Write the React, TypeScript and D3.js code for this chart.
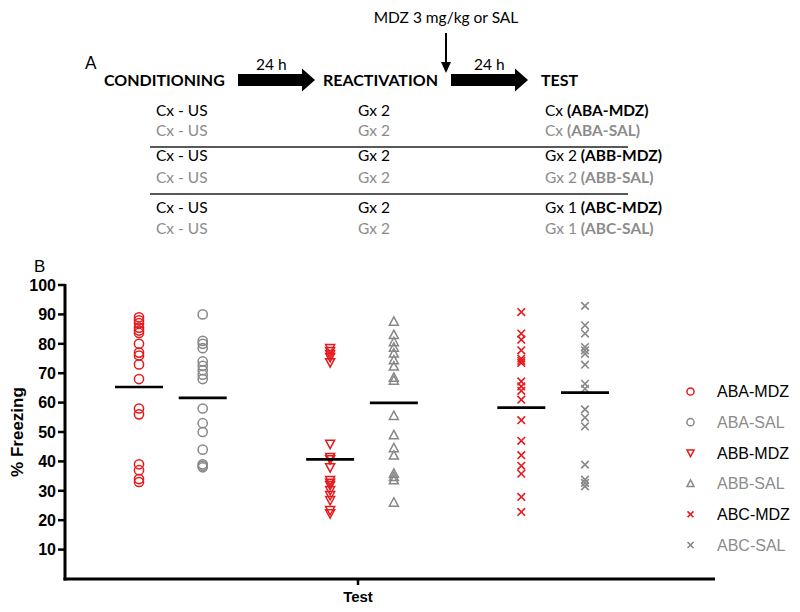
import React from "react";
import * as d3 from "d3";

// ---------- DATA ----------
const groups = ["ABA-MDZ", "ABA-SAL", "ABB-MDZ", "ABB-SAL", "ABC-MDZ", "ABC-SAL"];
const groupSlots = [0, 1, 3, 4, 6, 7];
const abaMdz = [89, 88, 87, 85.5, 84.5, 83.7, 80, 77, 76, 73, 68, 58, 56, 39, 37, 34, 33];
const abaSal = [90, 81, 80, 78.5, 74, 72.5, 71, 69.5, 68, 58, 53, 50, 44, 39, 38.5, 38];
const abbMdz = [78.5, 77.5, 76.5, 75.5, 73.7, 46, 41.5, 40.7, 38, 33.6, 32.7, 31.9, 30.2, 28.5, 26.8, 23.4, 22.3];
const abbSal = [87.5, 83, 80.6, 78.7, 76.7, 74.4, 72.3, 68.5, 67.5, 55.5, 48.9, 44.5, 42, 35.8, 34.7, 33.6, 26];
const abcMdz = [90.8, 83.5, 81.4, 77.8, 75, 74.2, 73.5, 67.2, 65.5, 64, 61, 54, 47, 42.1, 38.5, 35.8, 27.9, 22.8];
const abcSal = [92.9, 86.3, 83.5, 78.9, 77.8, 76.6, 72.9, 66.4, 64.7, 57.7, 54.9, 51.9, 38.9, 33.8, 32.7, 31.5];
const groupMeans = [65.3, 61.6, 40.7, 59.9, 58.3, 63.4];
const yTicks = [10, 20, 30, 40, 50, 60, 70, 80, 90, 100];
const xCategory = "Test";
const yTitle = "% Freezing";

const schemeLeft = ["Cx - US", "Cx - US", "Cx - US", "Cx - US", "Cx - US", "Cx - US"];
const schemeMid = ["Gx 2", "Gx 2", "Gx 2", "Gx 2", "Gx 2", "Gx 2"];
const schemeRightCtx = ["Cx", "Cx", "Gx 2", "Gx 2", "Gx 1", "Gx 1"];
const stages = ["CONDITIONING", "REACTIVATION", "TEST"];

const seriesValues = [abaMdz, abaSal, abbMdz, abbSal, abcMdz, abcSal];
const shapes = ["circle", "circle", "down", "up", "x", "x"];

const RED = "#e8191c";
const GRAY = "#888888";
const TXT_GRAY = "#8c8c8c";

function Marker({ shape, x, y, color, k = 1 }: { shape: string; x: number; y: number; color: string; k?: number }) {
  if (shape === "circle") {
    return <circle cx={x} cy={y} r={4.6 * k} fill="none" stroke={color} strokeWidth={1.5} />;
  }
  if (shape === "up") {
    return (
      <path
        d={`M${x},${y - 4.8 * k}L${x + 4.5 * k},${y + 3.6 * k}L${x - 4.5 * k},${y + 3.6 * k}Z`}
        fill="none"
        stroke={color}
        strokeWidth={1.5}
      />
    );
  }
  if (shape === "down") {
    return (
      <path
        d={`M${x},${y + 4.8 * k}L${x + 4.5 * k},${y - 3.6 * k}L${x - 4.5 * k},${y - 3.6 * k}Z`}
        fill="none"
        stroke={color}
        strokeWidth={1.5}
      />
    );
  }
  const s = 3.8 * k;
  return (
    <path
      d={`M${x - s},${y - s}L${x + s},${y + s}M${x - s},${y + s}L${x + s},${y - s}`}
      stroke={color}
      strokeWidth={1.6}
    />
  );
}

function ThickArrow({ x0, x1, y }: { x0: number; x1: number; y: number }) {
  const hx = x1 - 13;
  const d = `M${x0},${y - 6}L${hx},${y - 6}L${hx},${y - 11.5}L${x1},${y}L${hx},${y + 11.5}L${hx},${y + 6}L${x0},${y + 6}Z`;
  return <path d={d} fill="#000" />;
}

export default function App() {
  const y = d3.scaleLinear().domain([0, 100]).range([579, 285]);
  const x = d3.scaleLinear().domain([0, 7]).range([139, 585]);
  const axisLeft = 65;
  const axisRight = 715;
  const axisBottom = 579;

  const fA = "Lato, 'Open Sans', sans-serif";
  const fB = "'Liberation Sans', Arial, sans-serif";
  const rowY = [116, 136, 161, 183, 213, 234];
  const sepY = [147, 194];

  return (
    <svg width={800} height={612} style={{ position: "absolute", left: 0, top: 0, background: "#fff" }}>
      {/* Panel A */}
      <text x={446} y={23} textAnchor="middle" fontFamily={fA} fontSize={15.5}>
        MDZ 3 mg/kg or SAL
      </text>
      <line x1={446} y1={33} x2={446} y2={66} stroke="#000" strokeWidth={2} />
      <path d="M441,62L446,73L451,62Z" fill="#000" />
      <text x={85} y={69} fontFamily={fA} fontSize={17}>A</text>
      <text x={104} y={86} fontFamily={fA} fontSize={16} fontWeight="bold">{stages[0]}</text>
      <text x={256} y={70} fontFamily={fA} fontSize={15.5}>24 h</text>
      <ThickArrow x0={238} x1={315} y={80} />
      <text x={323} y={86} fontFamily={fA} fontSize={16} fontWeight="bold">{stages[1]}</text>
      <text x={474} y={70} fontFamily={fA} fontSize={15.5}>24 h</text>
      <ThickArrow x0={451} x1={528} y={80} />
      <text x={541} y={86} fontFamily={fA} fontSize={16} fontWeight="bold">{stages[2]}</text>

      {rowY.map((ry, i) => {
        const col = i % 2 === 0 ? "#000" : TXT_GRAY;
        return (
          <g key={i} fill={col} fontFamily={fA} fontSize={15.5}>
            <text x={156} y={ry}>{schemeLeft[i]}</text>
            <text x={358} y={ry}>{schemeMid[i]}</text>
            <text x={545} y={ry}>
              {schemeRightCtx[i] + " "}
              <tspan fontWeight="bold">({groups[i]})</tspan>
            </text>
          </g>
        );
      })}
      {sepY.map((sy, i) => (
        <line key={i} x1={150} x2={628} y1={sy} y2={sy} stroke="#222" strokeWidth={1.5} />
      ))}

      {/* Panel B */}
      <text x={34} y={272} fontFamily={fB} fontSize={17}>B</text>

      {/* y axis */}
      <line x1={axisLeft} x2={axisLeft} y1={y(100) - 1} y2={axisBottom + 1.5} stroke="#000" strokeWidth={3} />
      {yTicks.map((t) => (
        <g key={t}>
          <line x1={axisLeft - 7} x2={axisLeft} y1={y(t)} y2={y(t)} stroke="#000" strokeWidth={2.5} />
          <text
            x={axisLeft - 9}
            y={y(t)}
            dy="0.36em"
            textAnchor="end"
            fontFamily={fB}
            fontSize={16}
            fontWeight="bold"
          >
            {t}
          </text>
        </g>
      ))}
      <text
        transform={`translate(23,${y(50)}) rotate(-90)`}
        textAnchor="middle"
        fontFamily={fB}
        fontSize={17}
        fontWeight="bold"
      >
        {yTitle}
      </text>

      {/* x axis */}
      <line x1={axisLeft - 1.5} x2={axisRight} y1={axisBottom} y2={axisBottom} stroke="#000" strokeWidth={3} />
      <line x1={358} x2={358} y1={axisBottom} y2={axisBottom + 6} stroke="#000" strokeWidth={2.5} />
      <text x={358} y={602} textAnchor="middle" fontFamily={fB} fontSize={15} fontWeight="bold">
        {xCategory}
      </text>

      {/* data */}
      {seriesValues.map((vals, gi) => {
        const cx = x(groupSlots[gi]);
        const color = gi % 2 === 0 ? RED : GRAY;
        return (
          <g key={gi}>
            {vals.map((v, j) => (
              <Marker key={j} shape={shapes[gi]} x={cx} y={y(v)} color={color} />
            ))}
            <line
              x1={cx - 24}
              x2={cx + 24}
              y1={y(groupMeans[gi])}
              y2={y(groupMeans[gi])}
              stroke="#000"
              strokeWidth={2.6}
            />
          </g>
        );
      })}

      {/* legend */}
      {groups.map((g, i) => {
        const ly = 391.5 + i * 30.7;
        const color = i % 2 === 0 ? RED : GRAY;
        return (
          <g key={g}>
            <Marker shape={shapes[i]} x={690.5} y={ly} color={color} k={0.78} />
            <text
              x={717}
              y={ly}
              dy="0.36em"
              fontFamily={fB}
              fontSize={16}
              fill={i % 2 === 0 ? "#000" : TXT_GRAY}
            >
              {g}
            </text>
          </g>
        );
      })}
    </svg>
  );
}
